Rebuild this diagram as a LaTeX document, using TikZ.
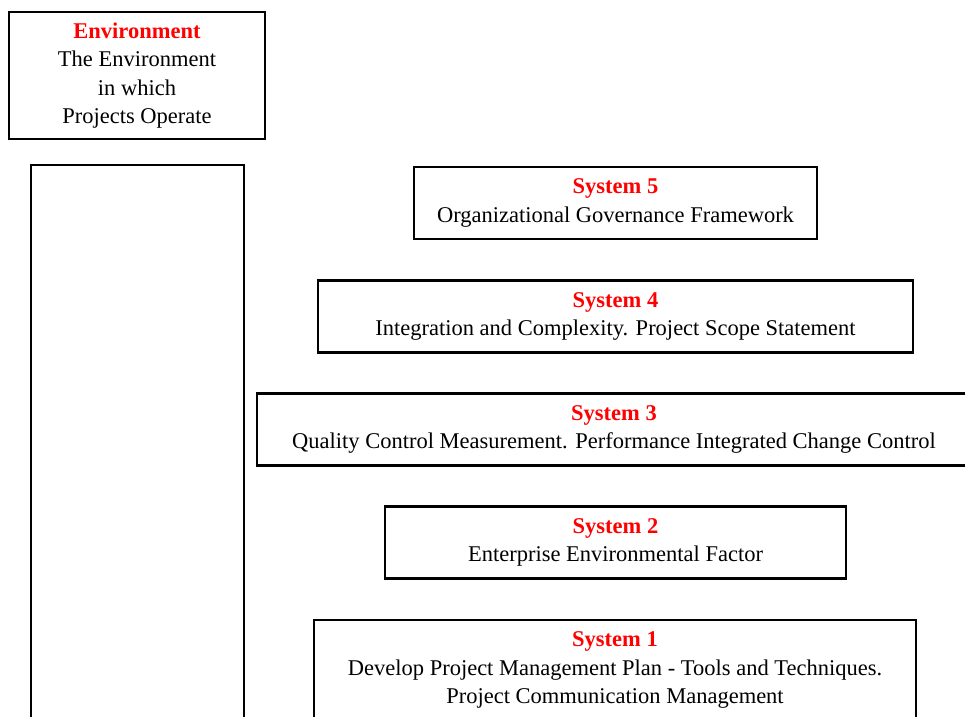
\documentclass[tikz,border=0pt]{standalone}
\usepackage{fontspec}
\setmainfont{Liberation Serif}
\usepackage{tikz}
\newcommand{\SysTitle}[1]{{\color{red}\bfseries #1}}

\begin{document}
\begin{tikzpicture}[x=1pt,y=-1pt,
  box/.style={rectangle,draw,line width=2.8pt,align=center,inner sep=0pt,
    font=\fontsize{22.5}{28.5}\selectfont},
  sys/.style={box,minimum height=72pt}]
\useasboundingbox (0,0) rectangle (965,716);
\clip (0,0) rectangle (965,716);

\node [box,minimum width=256pt,minimum height=127pt] (env) at (137,75.5)
  {\SysTitle{Environment}\\The Environment\\in which\\Projects Operate};
\node [box,minimum width=213pt,minimum height=620pt] (frame) at (137.5,475) {};

\node [sys,minimum width=403pt] (s5) at (615.5,203)
  {\SysTitle{System 5}\\Organizational Governance Framework};
\node [sys,minimum width=595pt] (s4) at (615.5,316.5)
  {\SysTitle{System 4}\\Integration and Complexity. Project Scope Statement};
\node [sys,minimum width=714pt] (s3) at (614,429.5)
  {\SysTitle{System 3}\\Quality Control Measurement. Performance Integrated Change Control};
\node [sys,minimum width=461pt] (s2) at (615.5,542.5)
  {\SysTitle{System 2}\\Enterprise Environmental Factor};
\node [sys,minimum width=602pt,minimum height=100pt] (s1) at (615,670)
  {\SysTitle{System 1}\\Develop Project Management Plan - Tools and Techniques.\\Project Communication Management};
\end{tikzpicture}
\end{document}
